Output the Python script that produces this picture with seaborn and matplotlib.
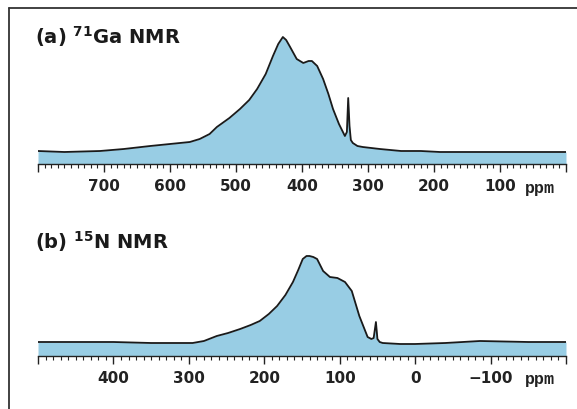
import numpy as np
import pandas as pd
import matplotlib
matplotlib.use("Agg")
import matplotlib.pyplot as plt
import seaborn as sns
from matplotlib.lines import Line2D
from matplotlib.ticker import MultipleLocator

# (a) 71Ga spectrum, ppm vs intensity (arb.)
ga_ppm = [800, 760, 706, 670, 630, 600, 570, 555, 540, 529, 510, 494, 480, 468, 455,
          444, 436, 429, 424, 418, 408, 398, 390, 385, 377, 368, 360, 353, 344,
          335, 332, 330, 328, 326, 323, 316, 308, 295, 282, 250, 220, 191, 150, 100, 50, 0]
ga_int = [13, 12, 13, 15, 18, 20, 22, 25, 30, 37, 46, 55, 64, 75, 90,
          108, 120, 127, 124, 117, 105, 101, 103, 103, 98, 85, 70, 55, 40,
          28, 32, 66, 38, 24, 21, 18, 17, 16, 15, 13, 13, 12, 12, 12, 12, 12]

# (b) 15N spectrum
n_ppm = [500, 450, 400, 350, 295, 280, 263, 248, 232, 218, 206, 194, 183, 172, 162,
         155, 149, 144, 140, 135, 130, 122, 113, 103, 93, 84, 74, 63, 58,
         55, 52, 50, 47, 43, 20, 0, -40, -86, -150, -200]
n_int = [14, 14, 14, 13, 13, 15, 20, 23, 27, 31, 35, 42, 50, 61, 74,
         86, 97, 100, 100, 99, 97, 85, 79, 78, 74, 65, 40, 19, 17,
         18, 34, 17, 14, 13, 12, 12, 13, 15, 14, 14]

fill_color = "#98cde4"

sns.set_style("ticks")
plt.rcParams["font.family"] = ["DejaVu Sans"]

fig = plt.figure(figsize=(5.77, 4.10), dpi=100)
ax_a = fig.add_axes([38 / 577, 1 - 165 / 410, 528 / 577, 135 / 410])
ax_b = fig.add_axes([38 / 577, 1 - 357 / 410, 528 / 577, 110 / 410])

panels = [
    (ax_a, ga_ppm, ga_int, (800, 0), 135),
    (ax_b, n_ppm, n_int, (500, -200), 110),
]

for ax, ppm, inten, xl, ytop in panels:
    df = pd.DataFrame({"ppm": ppm, "intensity": inten})
    ax.fill_between(df["ppm"], 0, df["intensity"], color=fill_color, lw=0)
    sns.lineplot(data=df, x="ppm", y="intensity", ax=ax, color="#1a1a1a", lw=1.3)
    ax.set_xlim(*xl)
    ax.set_ylim(0, ytop)
    ax.set_xlabel("")
    ax.set_ylabel("")
    ax.set_yticks([])
    for s in ["left", "right", "top"]:
        ax.spines[s].set_visible(False)
    ax.spines["bottom"].set_color("#222222")
    ax.spines["bottom"].set_linewidth(1.0)
    ax.xaxis.set_major_locator(MultipleLocator(100))
    ax.xaxis.set_minor_locator(MultipleLocator(10))
    ax.tick_params(axis="x", which="both", bottom=True, top=False)
    ax.tick_params(axis="x", which="major", direction="out", length=6, width=1.0,
                   color="#222222", pad=4, labelsize=11)
    ax.tick_params(axis="x", which="minor", direction="out", length=3, width=0.8,
                   color="#222222")
    ax.patch.set_alpha(0)
    ticks = ax.get_xticks()
    labels = []
    for t in ticks:
        if t >= max(xl) or t <= min(xl):
            labels.append("")
        else:
            labels.append(str(int(t)).replace("-", "\u2212"))
    ax.set_xticks(ticks)
    ax.set_xticklabels(labels, fontweight="bold", color="#222222")
    ax.set_xlim(*xl)
    ax.annotate("ppm", xy=(0.951, 0), xycoords="axes fraction", xytext=(0, -23),
                textcoords="offset pixels", ha="center", va="center",
                fontsize=12, fontweight="bold", family="Liberation Mono", color="#222222")

fig.text(35 / 577, 1 - 37 / 410, "(a) $^{\\mathbf{71}}$Ga NMR", ha="left", va="center",
         fontsize=14, fontweight="bold", color="#1a1a1a")
fig.text(35 / 577, 1 - 242 / 410, "(b) $^{\\mathbf{15}}$N NMR", ha="left", va="center",
         fontsize=14, fontweight="bold", color="#1a1a1a")

# frame lines (left and top)
fig.add_artist(Line2D([9 / 577, 9 / 577], [0, 1 - 9 / 410], color="#333333", lw=1.3))
fig.add_artist(Line2D([9 / 577, 1], [1 - 9 / 410, 1 - 9 / 410], color="#333333", lw=1.3))

fig.savefig("out.png", dpi=100)
